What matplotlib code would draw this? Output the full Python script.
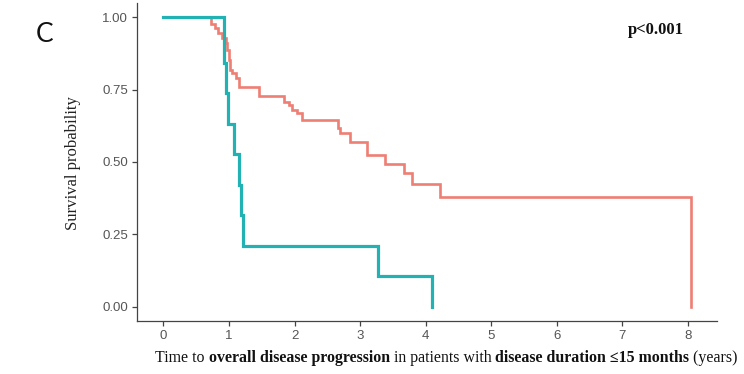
import matplotlib
matplotlib.use("Agg")
import matplotlib.pyplot as plt
import numpy as np

# ---- data ----
red_times = [0, 0.73, 0.79, 0.84, 0.89, 0.95, 0.97, 1.00, 1.02, 1.05, 1.10, 1.15, 1.46,
             1.84, 1.91, 1.96, 2.04, 2.11, 2.66, 2.70, 2.85, 3.11, 3.38, 3.67, 3.79, 4.22, 8.04]
red_surv = [1.0, 0.976, 0.964, 0.947, 0.930, 0.912, 0.889, 0.854, 0.819, 0.808, 0.791, 0.761, 0.727,
            0.709, 0.698, 0.681, 0.669, 0.646, 0.617, 0.600, 0.570, 0.524, 0.493, 0.461, 0.424, 0.380, 0.0]
teal_times = [0, 0.92, 0.96, 0.99, 1.07, 1.15, 1.18, 1.21, 3.27, 4.10]
teal_surv = [1.0, 0.842, 0.737, 0.632, 0.526, 0.421, 0.316, 0.211, 0.105, 0.0]
x_ticks = [0, 1, 2, 3, 4, 5, 6, 7, 8]
y_ticks = [0.00, 0.25, 0.50, 0.75, 1.00]
y_ticklabels = ["0.00", "0.25", "0.50", "0.75", "1.00"]

RED = "#EE7F74"
TEAL = "#22B2B4"

fig = plt.figure(figsize=(7.44, 3.74), dpi=100)
W, H = 744, 374
ax = fig.add_axes([137 / W, 1 - 321 / H, (717 - 137) / W, (321 - 3) / H])

ax.step(red_times, red_surv, where="post", color=RED, lw=1.9, solid_joinstyle="miter")
ax.step(teal_times, teal_surv, where="post", color=TEAL, lw=2.3, solid_joinstyle="miter")

ax.set_xlim(-0.402, 8.442)
ax.set_ylim(-0.05, 1.05)
ax.set_xticks(x_ticks)
ax.set_xticklabels([str(v) for v in x_ticks])
ax.set_yticks(y_ticks)
ax.set_yticklabels(y_ticklabels)
for s in ["top", "right"]:
    ax.spines[s].set_visible(False)
for s in ["left", "bottom"]:
    ax.spines[s].set_color("#444444")
    ax.spines[s].set_linewidth(0.9)
ax.tick_params(axis="both", direction="out", length=3.5, width=0.9, color="#444444",
               labelcolor="#555555", labelsize=9.5, pad=3)
for lab in ax.get_xticklabels() + ax.get_yticklabels():
    lab.set_family(["Liberation Sans", "DejaVu Sans"])

# y label
fig.text(73 / W, 1 - 163 / H, "Survival probability", rotation=90, ha="center", va="center",
         family=["Liberation Serif", "DejaVu Serif"], fontsize=12, color="#222222")

# panel letter
fig.text(45 / W, 1 - 34 / H, "C", ha="center", va="center", family=["Lato", "DejaVu Sans"],
         fontsize=19, color="#111111")

# p-value
fig.text(656 / W, 1 - 30 / H, "p<0.001", ha="center", va="center", fontweight="bold",
         family=["Liberation Serif", "DejaVu Serif"], fontsize=12, color="#111111")

# x label with mixed bold
pieces = [("Time to ", "normal"), ("overall disease progression", "bold"),
          (" in patients with ", "normal"), ("disease duration \u226415 months", "bold"),
          (" (years)", "normal")]
fig.canvas.draw()
renderer = fig.canvas.get_renderer()
fs = 11.4
texts = []
widths = []
for s, wgt in pieces:
    t = fig.text(0, 1 - 362 / H, s.replace(" ", "\u00a0"), fontweight=wgt, ha="left", va="baseline",
                 family=["Liberation Serif", "DejaVu Serif"], fontsize=fs, color="#111111")
    texts.append(t)
    widths.append(t.get_window_extent(renderer).width)
total = sum(widths)
x0 = 446.5 - total / 2
for t, w in zip(texts, widths):
    t.set_x(x0 / W)
    x0 += w

fig.savefig("out.png", dpi=100, facecolor="white")
